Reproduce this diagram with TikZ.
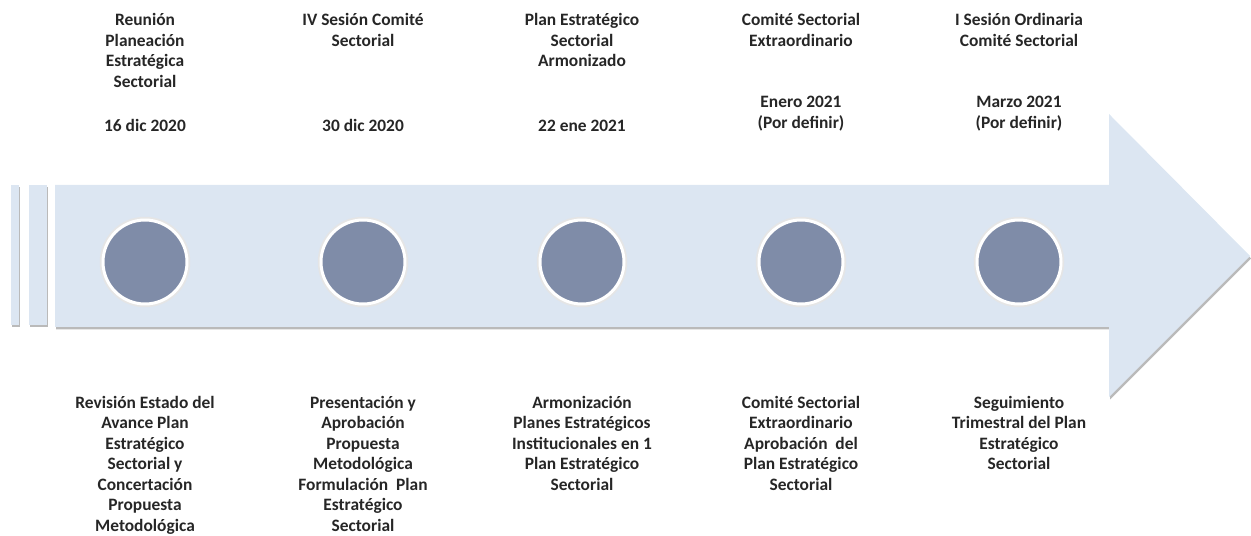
\documentclass[tikz,border=0pt]{standalone}
\usepackage{fontspec}
\setmainfont{Carlito}
\usetikzlibrary{positioning,shadows}
\definecolor{flecha}{HTML}{DCE6F2}
\definecolor{hitogris}{HTML}{7F8CA8}

\begin{document}
\begin{tikzpicture}[x=0.02cm,y=-0.02cm,
		hito/.style={circle,fill=hitogris,draw=white,line width=0.06cm,minimum size=1.68cm,inner sep=0pt,
			preaction={draw=black!10,line width=0.13cm}},
		texto/.style={align=center,font=\fontsize{9.9}{11.7}\selectfont\bfseries,text=black!85,inner sep=0pt},
		sombra/.style={drop shadow={shadow xshift=0.6pt,shadow yshift=-1.4pt,fill=black!45,opacity=0.6}}]
		\useasboundingbox (0,0) rectangle (1251,536);
		% flecha y barras
		\fill[flecha,sombra] (11,185) rectangle (19,325);
		\fill[flecha,sombra] (29,185) rectangle (47,325);
		\fill[flecha,sombra] (55,185) -- (1109,185) -- (1109,114) -- (1250,256) -- (1109,397) -- (1109,327) -- (55,327) -- cycle;
		% hitos
		\node[hito] (h1) at (145,262) {};
		\node[hito] (h2) at (363,262) {};
		\node[hito] (h3) at (582,262) {};
		\node[hito] (h4) at (801,262) {};
		\node[hito] (h5) at (1019,262) {};
		\coordinate (arriba) at (0,13);
		% titulos
		\node[texto,anchor=north] (t1) at (h1 |- arriba) {Reunión\\Planeación\\Estratégica\\Sectorial};
		\node[texto,anchor=north] (t2) at (h2 |- arriba) {IV Sesión Comité\\Sectorial};
		\node[texto,anchor=north] (t3) at (h3 |- arriba) {Plan Estratégico\\Sectorial\\Armonizado};
		\node[texto,anchor=north] (t4) at (h4 |- arriba) {Comité Sectorial\\Extraordinario};
		\node[texto,anchor=north] (t5) at (h5 |- arriba) {I Sesión Ordinaria\\Comité Sectorial};
		% fechas
		\node[texto,above=1.74cm of h1] (f1) {16 dic 2020};
		\node[texto,above=1.74cm of h2] (f2) {30 dic 2020};
		\node[texto,above=1.74cm of h3] (f3) {22 ene 2021};
		\node[texto,above=1.74cm of h4] (f4) {Enero 2021\\(Por definir)};
		\node[texto,above=1.74cm of h5] (f5) {Marzo 2021\\(Por definir)};
		% descripciones
		\node[texto,below=1.8cm of h1] (d1) {Revisión Estado del\\Avance Plan\\Estratégico\\Sectorial y\\Concertación\\Propuesta\\Metodológica};
		\node[texto,below=1.8cm of h2] (d2) {Presentación y\\Aprobación\\Propuesta\\Metodológica\\Formulación\ \ Plan\\Estratégico\\Sectorial};
		\node[texto,below=1.8cm of h3] (d3) {Armonización\\Planes Estratégicos\\Institucionales en 1\\Plan Estratégico\\Sectorial};
		\node[texto,below=1.8cm of h4] (d4) {Comité Sectorial\\Extraordinario\\Aprobación\ \ del\\Plan Estratégico\\Sectorial};
		\node[texto,below=1.8cm of h5] (d5) {Seguimiento\\Trimestral del Plan\\Estratégico\\Sectorial};
\end{tikzpicture}
\end{document}
